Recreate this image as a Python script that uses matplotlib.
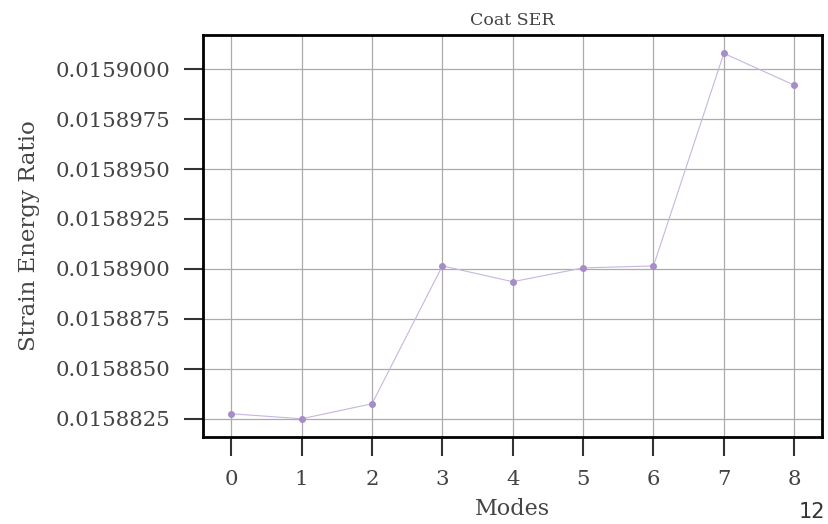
import numpy as np
import matplotlib
matplotlib.use("Agg")
import matplotlib.pyplot as plt

# values
modes = [0, 1, 2, 3, 4, 5, 6, 7, 8]
ser = [0.01588275, 0.0158825, 0.01588325, 0.01589015, 0.01588936,
       0.01589005, 0.01589015, 0.01590079, 0.0158992]
yticks = [0.0158825, 0.0158850, 0.0158875, 0.0158900,
          0.0158925, 0.0158950, 0.0158975, 0.0159000]

plt.rcParams['font.family'] = ['DejaVu Serif']

fig = plt.figure(figsize=(8.29, 5.24), dpi=100)
ax = fig.add_axes([0.245, 0.166, 0.747, 0.767])

ax.plot(modes, ser, color='#c7b6dd', lw=0.8, marker='o', ms=4,
        markerfacecolor='#a68cc8', markeredgecolor='#a68cc8', zorder=3)

ax.set_yticks(yticks)
ax.set_yticklabels(['%.7f' % v for v in yticks])
ax.set_xticks(modes)
ax.grid(True, color='#ababab', lw=0.9)
for s in ax.spines.values():
    s.set_linewidth(2.0)
    s.set_color('black')
ax.tick_params(axis='both', labelsize=15.3, length=14, width=1.5, pad=9.5,
               direction='out', colors='#333333', labelcolor='#444444')

ax.set_title('Coat SER', fontsize=12.5, color='#444444', pad=7)
ax.set_xlabel('Modes', fontsize=16, color='#444444', labelpad=7)
ax.set_ylabel('Strain Energy Ratio', fontsize=16.5, color='#444444', labelpad=11)

fig.text(0.964, 0.004, '12', fontsize=15, family='DejaVu Sans', color='#333333',
         ha='left', va='bottom')

fig.savefig('out.png', dpi=100)
